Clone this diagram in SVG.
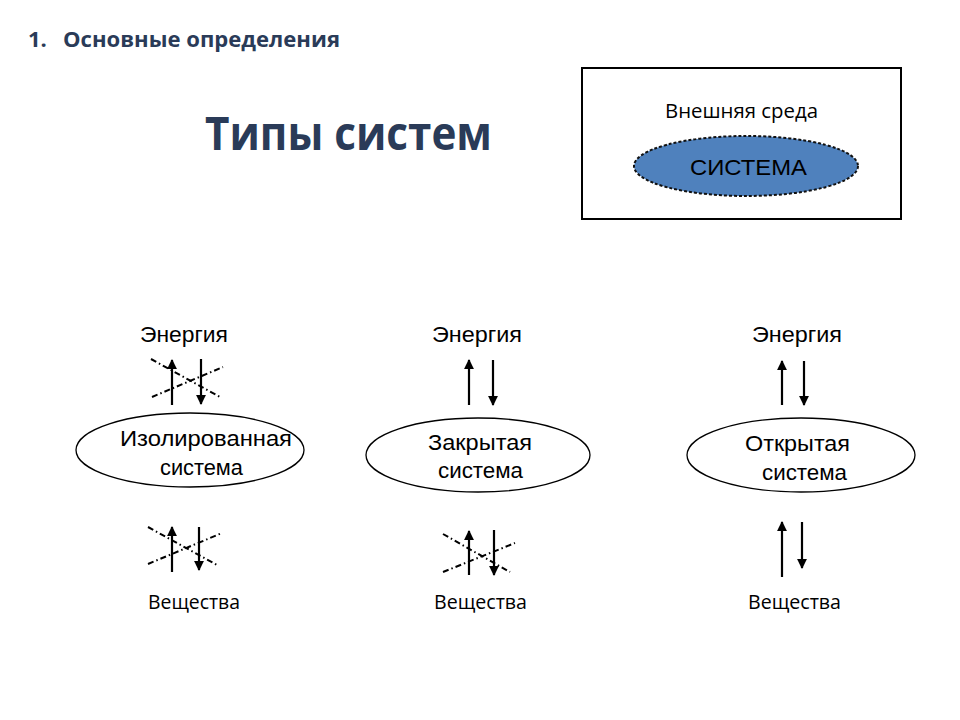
<svg xmlns="http://www.w3.org/2000/svg" width="960" height="720" viewBox="0 0 960 720">
<style>
.hdr{font-family:"Open Sans","Noto Sans",sans-serif;font-weight:bold;fill:#2a3b58}
.lbl{font-family:"Liberation Sans",Arial,sans-serif;font-size:22px;fill:#000}
.cal{font-family:"Open Sans","Noto Sans",sans-serif;font-size:19.5px;fill:#000}
.arr{stroke:#000;stroke-width:2.2;fill:none}
.cross{stroke:#000;stroke-width:2;stroke-dasharray:6 3 1.5 3;fill:none}
.oval{fill:#fff;stroke:#000;stroke-width:1.3}
</style>
<defs>
<marker id="ah" viewBox="0 0 10 10" refX="9" refY="5" markerWidth="4.5" markerHeight="4.5" orient="auto" markerUnits="strokeWidth">
<path d="M0,0 L10,5 L0,10 Z" fill="#000"/>
</marker>
</defs>
<rect width="960" height="720" fill="#fff"/>
<text class="hdr" x="28" y="47" font-size="22">1.</text>
<text class="hdr" x="63" y="47" font-size="22" textLength="277" lengthAdjust="spacingAndGlyphs">Основные определения</text>
<text class="hdr" x="205" y="150" font-size="47" fill="#1f3251" textLength="287" lengthAdjust="spacingAndGlyphs">Типы систем</text>

<g id="env">
<rect x="582" y="68" width="319" height="151" fill="#fff" stroke="#000" stroke-width="2"/>
<text class="cal" x="665" y="118" font-size="21" textLength="153" lengthAdjust="spacingAndGlyphs">Внешняя среда</text>
</g>
<g id="sys">
<ellipse cx="746" cy="166" rx="112" ry="30" fill="#4f81bd" stroke="#111" stroke-width="2" stroke-dasharray="3 2"/>
<text class="lbl" x="690" y="175" font-size="24" fill="#0d1a33" textLength="117" lengthAdjust="spacingAndGlyphs">СИСТЕМА</text>
</g>

<g id="isolated">
<ellipse class="oval" cx="190" cy="450" rx="114" ry="37"/>
<text class="lbl" x="120" y="446" textLength="172" lengthAdjust="spacingAndGlyphs">Изолированная</text>
<text class="lbl" x="160" y="475" textLength="83" lengthAdjust="spacingAndGlyphs">система</text>
</g>
<g id="closed">
<ellipse class="oval" cx="478" cy="455" rx="112" ry="37"/>
<text class="lbl" x="428" y="450" textLength="104" lengthAdjust="spacingAndGlyphs">Закрытая</text>
<text class="lbl" x="438" y="478" textLength="85" lengthAdjust="spacingAndGlyphs">система</text>
</g>
<g id="open">
<ellipse class="oval" cx="801" cy="455" rx="114" ry="37" stroke="#555" stroke-width="1"/>
<text class="lbl" x="745" y="451" textLength="105" lengthAdjust="spacingAndGlyphs">Открытая</text>
<text class="lbl" x="762" y="480" textLength="85" lengthAdjust="spacingAndGlyphs">система</text>
</g>

<g id="labels">
<text class="lbl" x="140" y="342" textLength="88" lengthAdjust="spacingAndGlyphs">Энергия</text>
<text class="lbl" x="432" y="342" textLength="90" lengthAdjust="spacingAndGlyphs">Энергия</text>
<text class="lbl" x="752" y="342" textLength="90" lengthAdjust="spacingAndGlyphs">Энергия</text>
<text class="cal" x="148" y="609" textLength="92" lengthAdjust="spacingAndGlyphs">Вещества</text>
<text class="cal" x="434" y="609" textLength="93" lengthAdjust="spacingAndGlyphs">Вещества</text>
<text class="cal" x="748" y="609" textLength="93" lengthAdjust="spacingAndGlyphs">Вещества</text>
</g>

<g id="connectors">
<!-- left top -->
<line class="arr" x1="172" y1="405" x2="172" y2="360" marker-end="url(#ah)"/>
<line class="arr" x1="201" y1="359" x2="201" y2="404" marker-end="url(#ah)"/>
<line class="cross" x1="151" y1="359" x2="220" y2="397"/>
<line class="cross" x1="152" y1="397" x2="223" y2="367"/>
<!-- middle top -->
<line class="arr" x1="469" y1="405" x2="469" y2="360" marker-end="url(#ah)"/>
<line class="arr" x1="493" y1="360" x2="493" y2="405" marker-end="url(#ah)"/>
<!-- right top -->
<line class="arr" x1="782" y1="405" x2="782" y2="361" marker-end="url(#ah)"/>
<line class="arr" x1="804" y1="361" x2="804" y2="405" marker-end="url(#ah)"/>
<!-- left bottom -->
<line class="arr" x1="172" y1="572" x2="172" y2="527" marker-end="url(#ah)"/>
<line class="arr" x1="199" y1="527" x2="199" y2="570" marker-end="url(#ah)"/>
<line class="cross" x1="148" y1="527" x2="217" y2="565"/>
<line class="cross" x1="148" y1="564" x2="222" y2="533"/>
<!-- middle bottom -->
<line class="arr" x1="469" y1="575" x2="469" y2="531" marker-end="url(#ah)"/>
<line class="arr" x1="494" y1="530" x2="494" y2="575" marker-end="url(#ah)"/>
<line class="cross" x1="443" y1="534" x2="510" y2="572"/>
<line class="cross" x1="443" y1="572" x2="515" y2="543"/>
<!-- right bottom -->
<line class="arr" x1="782" y1="577" x2="782" y2="522" marker-end="url(#ah)"/>
<line class="arr" x1="802" y1="522" x2="802" y2="568" marker-end="url(#ah)"/>
</g>
</svg>
